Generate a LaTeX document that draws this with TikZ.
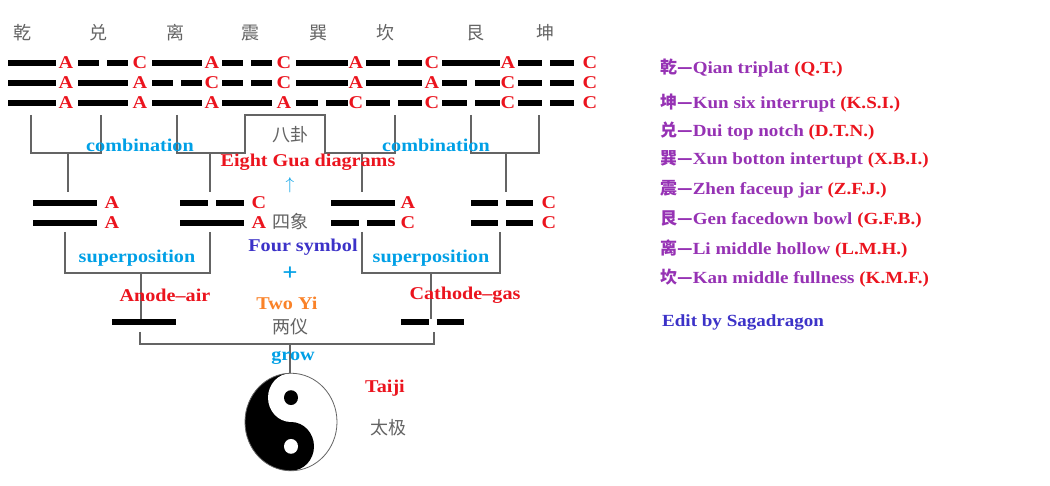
\documentclass[tikz,border=0pt]{standalone}
\usepackage{fontspec}
\setmainfont{Liberation Serif}[FakeStretch=1.12]
\newfontfamily\cjk{Noto Sans CJK SC}
\definecolor{cyn}{RGB}{0,160,230}
\definecolor{red1}{RGB}{235,20,30}
\definecolor{blu}{RGB}{60,50,200}
\definecolor{pur}{RGB}{150,50,180}
\definecolor{org}{RGB}{250,130,40}
\definecolor{gry}{RGB}{100,100,100}
\newcommand{\yangbar}[3]{\draw[bar] (#1,#3) -- (#2,#3);}
\newcommand{\yinbar}[3]{\draw[bar] (#1,#3) -- ({(#1+#2)/2-4},#3); \draw[bar] ({(#1+#2)/2+4},#3) -- (#2,#3);}
\begin{document}
\begin{tikzpicture}[x=1pt,y=-1pt,
  bar/.style={line width=6pt},
  conn/.style={gry,line width=1.6pt},
  lab/.style={font=\fontsize{18}{18}\selectfont\bfseries,inner sep=0pt},
  ac/.style={lab,red1},
  cn/.style={font=\cjk\fontsize{18}{18}\selectfont,gry,inner sep=0pt},
  rt/.style={anchor=west,font=\fontsize{17}{17}\selectfont\bfseries,pur,inner sep=0pt}]
\useasboundingbox[fill=white] (0,0) rectangle (1050,486);
% top names
\foreach \t/\x in {乾/22,兑/98,离/175,震/250,巽/318,坎/385,艮/475,坤/545}
  \node[cn] at (\x,33) {\t};
% trigrams
\foreach \a/\b/\lx [count=\i] in {8/56/66,78/128/140,152/202/212,222/272/284,296/348/356,366/422/432,442/500/508,518/574/590}{
  \pgfmathsetmacro\rA{mod(\i,2)}
  \pgfmathsetmacro\rB{(\i==1||\i==2||\i==5||\i==6)?1:0}
  \pgfmathsetmacro\rC{(\i<5)?1:0}
  \foreach \r/\y in {\rA/63,\rB/83,\rC/103}{
    \ifdim\r pt>0.5pt \yangbar{\a}{\b}{\y}\node[ac] at (\lx,\y) {A};
    \else \yinbar{\a}{\b}{\y}\node[ac] at (\lx,\y) {C};\fi
  }
}
% brackets to bigrams
\draw[conn] (31,115) -- (31,153) -- (101,153) -- (101,115);
\draw[conn] (68,153) -- (68,192);
\draw[conn] (177,115) -- (177,153) -- (245,153) -- (245,115) -- (325,115) -- (325,153) -- (395,153) -- (395,115);
\draw[conn] (210,153) -- (210,192);
\draw[conn] (362,153) -- (362,192);
\draw[conn] (471,115) -- (471,153) -- (539,153) -- (539,115);
\draw[conn] (506,153) -- (506,192);
\node[cn] (bagua) at (290,135) {八卦};
\node[lab,cyn] (comb1) at (140,145) {combination};
\node[lab,cyn] (comb2) at (436,145) {combination};
\node[lab,red1] (egd) at (308,162) {Eight Gua diagrams};
\node[lab,cyn] (arr) at (290,185) {$\uparrow$};
% bigrams
\yangbar{33}{97}{203}\yangbar{33}{97}{223}
\node[ac] at (112,203) {A};\node[ac] at (112,223) {A};
\yinbar{180}{244}{203}\yangbar{180}{244}{223}
\node[ac] at (259,203) {C};\node[ac] at (259,223) {A};
\yangbar{331}{395}{203}\yinbar{331}{395}{223}
\node[ac] at (408,203) {A};\node[ac] at (408,223) {C};
\yinbar{471}{533}{203}\yinbar{471}{533}{223}
\node[ac] at (549,203) {C};\node[ac] at (549,223) {C};
\node[cn] (sixiang) at (290,222) {四象};
% brackets to two yi
\draw[conn] (65,232) -- (65,273) -- (210,273) -- (210,232);
\draw[conn] (141,273) -- (141,319);
\draw[conn] (362,232) -- (362,273) -- (500,273) -- (500,232);
\draw[conn] (431,273) -- (431,319);
\node[lab,blu] (four) at (303,247) {Four symbol};
\node[lab,cyn] (sup1) at (137,258) {superposition};
\node[lab,cyn] (sup2) at (431,258) {superposition};
\node[lab,cyn,font=\fontsize{24}{24}\selectfont\bfseries] (plus) at (290,274) {+};
\node[lab,red1] (anode) at (165,295) {Anode--air};
\node[lab,red1] (cathode) at (465,295) {Cathode--gas};
\node[lab,org] (twoyi) at (287,303) {Two Yi};
\node[cn] (liangyi) at (290,327) {两仪};
\yangbar{112}{176}{322}
\yinbar{401}{464}{322}
\draw[conn] (140,332) -- (140,344) -- (434,344) -- (434,332);
\draw[conn] (290,344) -- (290,373);
\node[lab,cyn] (grow) at (293,358) {grow};
% taiji
\begin{scope}[shift={(291,422)},yscale=1.06]
  \fill[white] (0,0) circle (46);
  \fill[black] (0,-46) arc (-90:-270:46) -- cycle;
  \fill[white] (0,-23) circle (23);
  \fill[black] (0,23) circle (23);
  \fill[black] (0,-23) circle (7);
  \fill[white] (0,23) circle (7);
  \draw[gry,line width=0.8pt] (0,0) circle (46);
\end{scope}
\node[lab,red1] (taiji) at (385,388) {Taiji};
\node[cn] (taijicn) at (388,428) {太极};
% right legend
\foreach \c/\e/\ab/\y in {乾/Qian triplat/(Q.T.)/68, 坤/Kun six interrupt/(K.S.I.)/103, 兑/Dui top notch/(D.T.N.)/131, 巽/Xun botton intertupt/(X.B.I.)/159, 震/Zhen faceup jar/(Z.F.J.)/189, 艮/Gen facedown bowl/(G.F.B.)/219, 离/Li middle hollow/(L.M.H.)/249, 坎/Kan middle fullness/(K.M.F.)/278}
  \node[rt] at (660,\y) {{\cjk\fontsize{17}{17}\selectfont\c—}\e\ {\color{red1}\ab}};
\node[rt,blu] (edit) at (662,322) {Edit by Sagadragon};
\end{tikzpicture}
\end{document}
